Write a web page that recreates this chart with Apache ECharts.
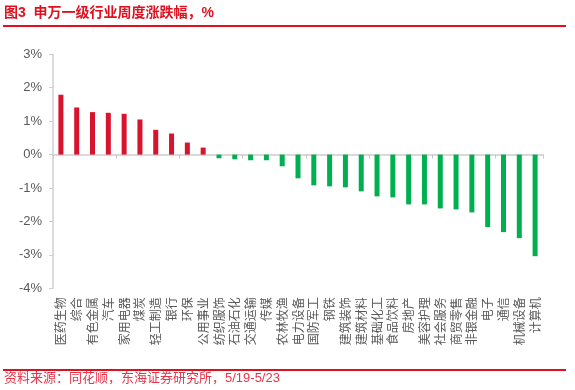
<!DOCTYPE html>
<html><head><meta charset="utf-8">
<script src="https://cdn.jsdelivr.net/npm/echarts@6/dist/echarts.min.js"></script>
<style>html,body{margin:0;padding:0;background:#fff;}#c{width:575px;height:390px;}</style>
</head><body><div id="c"></div>
<script>
const categories = ['医药生物','综合','有色金属','汽车','家用电器','煤炭','轻工制造','银行','环保','公用事业','纺织服饰','石油石化','交通运输','传媒','农林牧渔','电力设备','国防军工','钢铁','建筑装饰','建筑材料','基础化工','食品饮料','房地产','美容护理','社会服务','商贸零售','非银金融','电子','通信','机械设备','计算机'];
const values = [1.79,1.41,1.27,1.25,1.22,1.05,0.74,0.63,0.36,0.21,-0.11,-0.14,-0.17,-0.17,-0.35,-0.71,-0.92,-0.95,-0.98,-1.10,-1.25,-1.28,-1.49,-1.49,-1.61,-1.64,-1.73,-2.17,-2.32,-2.50,-3.04];
const yTicks = [-4,-3,-2,-1,0,1,2,3];
const titleText = '图3  申万一级行业周度涨跌幅，%';
const sourceText = '资料来源：同花顺，东海证券研究所，5/19-5/23';

const RED = '#d7132d', GREEN = '#00b050', TITLE_RED = '#e0101f';
const chart = echarts.init(document.getElementById('c'), null, {renderer:'canvas'});
const font = '"Liberation Sans","Noto Sans CJK SC",sans-serif';
chart.setOption({
  animation:false,
  textStyle:{fontFamily:font},
  graphic:[
    {type:'text', left:4, top:6, style:{text:titleText, fill:TITLE_RED, font:'bold 14px "Liberation Sans","Noto Sans CJK SC",sans-serif'}},
    {type:'rect', shape:{x:3,y:25,width:563,height:2}, style:{fill:TITLE_RED}},
    {type:'rect', shape:{x:3,y:369,width:563,height:2}, style:{fill:TITLE_RED}},
    {type:'text', left:4, top:372, style:{text:sourceText, fill:'#e8354a', font:'13px "Liberation Sans","Noto Sans CJK SC",sans-serif'}}
  ],
  grid:{left:53, right:32, top:54.3, bottom:101.7},
  xAxis:[
    {type:'category', data:categories, axisLine:{onZero:true, lineStyle:{color:'#d9d9d9', width:2}},
     axisTick:{show:true, length:4, lineStyle:{color:'#c8c8c8'}}, axisLabel:{show:false}, splitLine:{show:false}},
    {type:'category', data:categories, position:'bottom', axisLine:{show:false, onZero:false}, axisTick:{show:false},
     axisLabel:{interval:0, rotate:90, color:'#595959', fontSize:12, margin:9, fontFamily:'"Noto Sans CJK SC",sans-serif'}}
  ],
  yAxis:{type:'value', min:yTicks[0], max:yTicks[yTicks.length-1], interval:1,
    axisLine:{show:true, lineStyle:{color:'#d0d0d0', width:1.5}},
    axisTick:{show:true, length:4, lineStyle:{color:'#d0d0d0'}},
    splitLine:{show:false},
    axisLabel:{formatter:v=>v+'%', color:'#595959', fontSize:13, margin:11}},
  series:[{type:'bar', xAxisIndex:0, barWidth:5,
    data:values.map(v=>({value:v, itemStyle:{color: v>=0?RED:GREEN}}))}]
});
</script></body></html>
